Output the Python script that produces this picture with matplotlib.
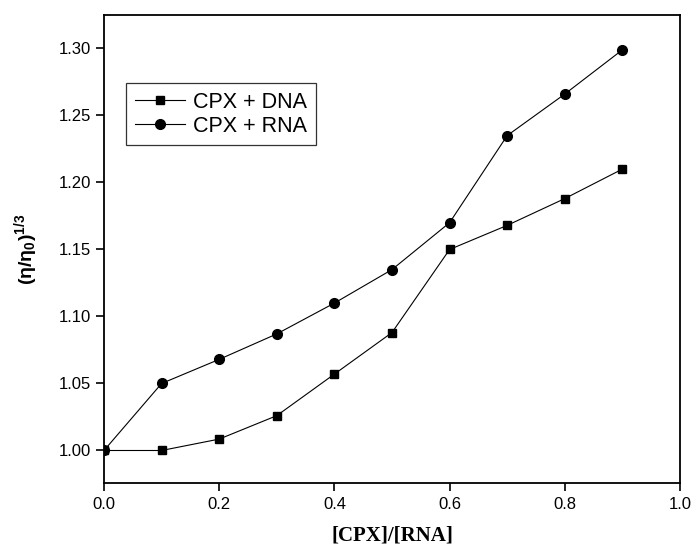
import matplotlib
matplotlib.use('Agg')
import matplotlib.pyplot as plt

plt.rcParams['font.family'] = ['Liberation Sans', 'DejaVu Sans']
plt.rcParams['mathtext.fontset'] = 'custom'
plt.rcParams['mathtext.rm'] = 'Liberation Sans:bold'
plt.rcParams['mathtext.it'] = 'Liberation Sans:bold:italic'
plt.rcParams['mathtext.bf'] = 'Liberation Sans:bold'

ratio = [0.0, 0.1, 0.2, 0.3, 0.4, 0.5, 0.6, 0.7, 0.8, 0.9]
dna = [1.000, 1.000, 1.0085, 1.026, 1.057, 1.088, 1.150, 1.168, 1.188, 1.210]
rna = [1.000, 1.050, 1.068, 1.087, 1.110, 1.135, 1.170, 1.235, 1.266, 1.299]

fig = plt.figure(figsize=(6.97, 5.53), dpi=100)
ax = fig.add_axes([0.1492, 0.126, 0.8264, 0.8469])

ax.plot(ratio, dna, '-s', color='black', lw=0.8, ms=5.5, label='CPX + DNA')
ax.plot(ratio, rna, '-o', color='black', lw=0.8, ms=7, label='CPX + RNA')

ax.set_xlim(0, 1.0)
ax.set_ylim(0.9755, 1.325)
ax.set_xticks([0.0, 0.2, 0.4, 0.6, 0.8, 1.0])
ax.set_yticks([1.00, 1.05, 1.10, 1.15, 1.20, 1.25, 1.30])
ax.xaxis.set_major_formatter(plt.FormatStrFormatter('%.1f'))
ax.yaxis.set_major_formatter(plt.FormatStrFormatter('%.2f'))
ax.tick_params(direction='out', length=6, width=1.2, labelsize=12, top=False, right=False)
for s in ax.spines.values():
    s.set_linewidth(1.3)

ax.set_xlabel('[CPX]/[RNA]', family='Liberation Serif', fontweight='bold', fontsize=15, labelpad=10)
ax.set_ylabel(r'(η/η$_\mathbf{0}$)$^{1/3}$', fontweight='bold', fontsize=14, labelpad=13)

leg = ax.legend(loc='upper left', bbox_to_anchor=(0.039, 0.854), borderaxespad=0,
                fontsize=15.5, numpoints=1, handlelength=2.3, handletextpad=0.4,
                borderpad=0.4, labelspacing=0.12, fancybox=False, frameon=True)
leg.get_frame().set_edgecolor('black')
leg.get_frame().set_linewidth(0.9)

fig.savefig('out.png', dpi=100)
